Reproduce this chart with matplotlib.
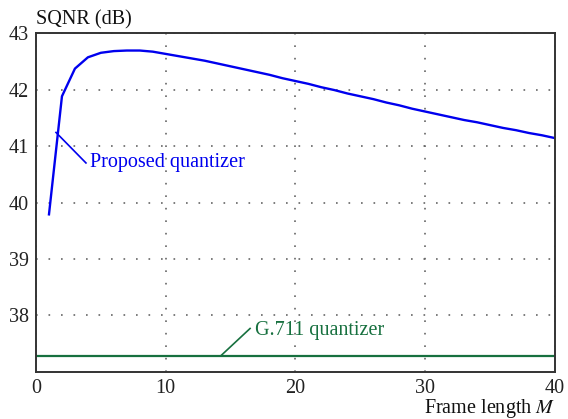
import matplotlib.pyplot as plt

# frame lengths and SQNR values
frame_len = list(range(1, 41))
sqnr_proposed = [39.79, 41.88, 42.37, 42.57, 42.65, 42.68, 42.69, 42.69, 42.67, 42.63,
                 42.59, 42.55, 42.51, 42.46, 42.41, 42.36, 42.31, 42.26, 42.20, 42.15,
                 42.10, 42.04, 41.99, 41.93, 41.88, 41.83, 41.77, 41.72, 41.66, 41.61,
                 41.56, 41.51, 41.46, 41.42, 41.37, 41.32, 41.28, 41.23, 41.19, 41.14]
g711_x = [0, 40]
g711_sqnr = [37.29, 37.29]
xticks = [0, 10, 20, 30, 40]
yticks = [38, 39, 40, 41, 42, 43]

plt.rcParams['font.family'] = ['Liberation Serif', 'DejaVu Serif']
plt.rcParams['mathtext.fontset'] = 'stix'

fig = plt.figure(figsize=(5.68, 4.19), dpi=100)
ax = fig.add_axes([0.0634, 0.1122, 0.9136, 0.809])

blue = '#0000ee'
green = '#17703f'
fs = 14.5

ax.plot(frame_len, sqnr_proposed, color=blue, lw=1.7)
ax.plot(g711_x, g711_sqnr, color=green, lw=1.6)

ax.set_xlim(0, 40)
ax.set_ylim(37, 43)
ax.set_xticks(xticks)
ax.set_yticks(yticks)
ax.tick_params(length=0, labelsize=fs, pad=5, colors='#222222')
ax.grid(True, color='#666666', linestyle=(0, (1, 6.5)), lw=1.2)
for s in ax.spines.values():
    s.set_linewidth(1.4)
    s.set_color('#333333')

# labels for the curves
ax.plot([1.54, 3.85], [41.24, 40.70], color=blue, lw=1.2)
ax.text(4.2, 40.71, 'Proposed quantizer', color=blue, fontsize=fs, va='center')
ax.plot([14.26, 16.5], [37.29, 37.77], color=green, lw=1.2)
ax.text(16.9, 37.74, 'G.711 quantizer', color=green, fontsize=fs, va='center')

fig.text(0.0634, 0.952, 'SQNR (dB)', fontsize=fs, va='center', ha='left', color='#111111')
fig.text(0.977, 0.024, 'Frame length $M$', fontsize=fs, va='center', ha='right', color='#111111')

fig.savefig('out.png', dpi=100)
